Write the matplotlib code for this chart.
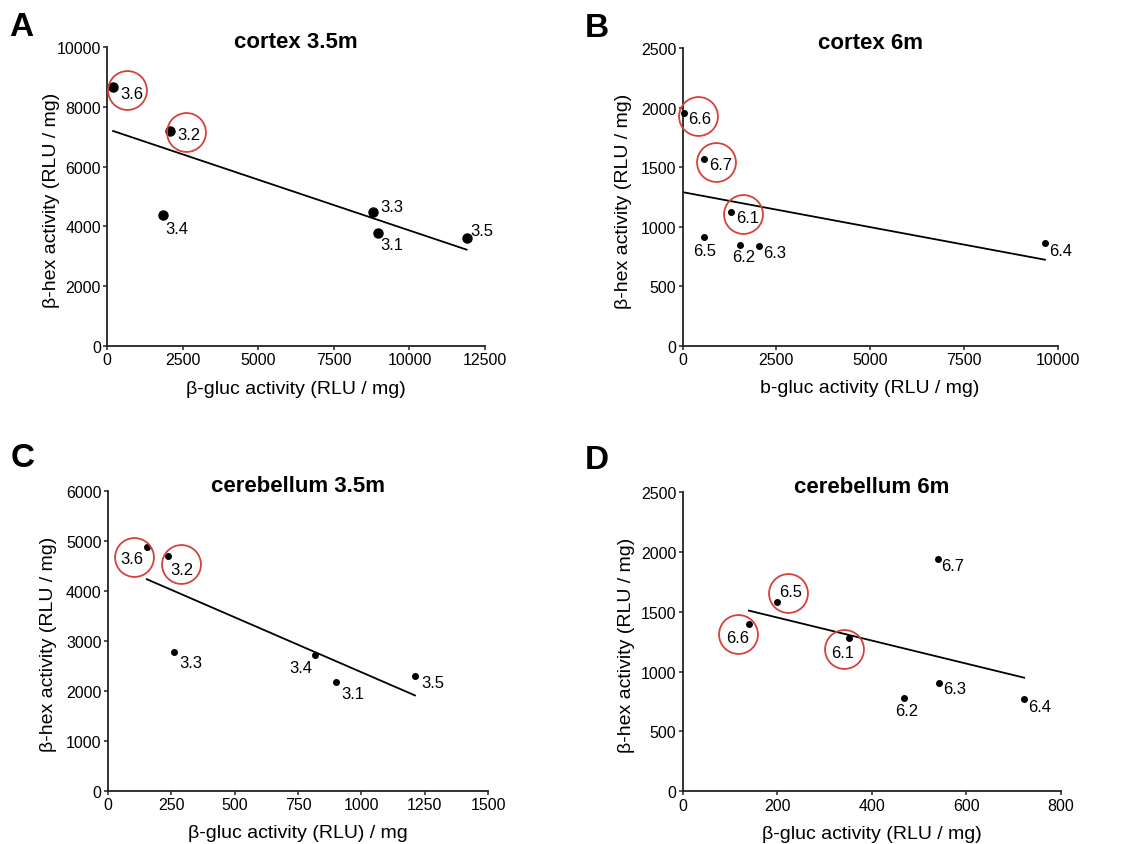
import numpy as np
import matplotlib
matplotlib.use("Agg")
import matplotlib.pyplot as plt
import matplotlib.transforms as mtransforms

plt.rcParams['font.family'] = ['Liberation Sans', 'DejaVu Sans']

# panel A - cortex 3.5m
a_names = ['3.6', '3.2', '3.4', '3.3', '3.1', '3.5']
a_x = [200, 2090, 1840, 8780, 8950, 11890]
a_y = [8660, 7180, 4390, 4470, 3780, 3630]

# panel B - cortex 6m
b_names = ['6.6', '6.7', '6.1', '6.5', '6.2', '6.3', '6.4']
b_x = [40, 580, 1290, 570, 1540, 2040, 9660]
b_y = [1960, 1570, 1120, 910, 850, 840, 860]

# panel C - cerebellum 3.5m
c_names = ['3.6', '3.2', '3.3', '3.4', '3.1', '3.5']
c_x = [154, 236, 261, 817, 900, 1211]
c_y = [4870, 4700, 2770, 2720, 2180, 2300]

# panel D - cerebellum 6m
d_names = ['6.6', '6.5', '6.1', '6.7', '6.3', '6.2', '6.4']
d_x = [140, 200, 352, 539, 542, 467, 722]
d_y = [1400, 1585, 1280, 1940, 905, 780, 770]

# samples circled in red
a_circled = ['3.6', '3.2']
b_circled = ['6.6', '6.7', '6.1']
c_circled = ['3.6', '3.2']
d_circled = ['6.6', '6.5', '6.1']

# label offsets in pixels (dx, dy, ha) and circle offsets (dx, dy)
a_lab = {'3.6': (7, -6, 'left'), '3.2': (7, -3, 'left'), '3.4': (3, -14, 'left'),
         '3.3': (8, 6, 'left'), '3.1': (3, -11, 'left'), '3.5': (4, 7, 'left')}
a_circ = {'3.6': (14, -3), '3.2': (16, -1)}
b_lab = {'6.6': (4, -6, 'left'), '6.7': (5, -6, 'left'), '6.1': (5, -5, 'left'),
         '6.5': (1, -13, 'center'), '6.2': (3, -12, 'center'), '6.3': (4, -7, 'left'),
         '6.4': (4, -7, 'left')}
b_circ = {'6.6': (14, -3), '6.7': (12, -3), '6.1': (12, -2)}
c_lab = {'3.6': (-3, -11, 'right'), '3.2': (3, -14, 'left'), '3.3': (5, -10, 'left'),
         '3.4': (-3, -13, 'right'), '3.1': (5, -12, 'left'), '3.5': (6, -7, 'left')}
c_circ = {'3.6': (-13, -10), '3.2': (13, -8)}
d_lab = {'6.6': (0, -14, 'right'), '6.5': (2, 10, 'left'), '6.1': (-7, -14, 'center'),
         '6.7': (4, -6, 'left'), '6.3': (4, -6, 'left'), '6.2': (3, -13, 'center'),
         '6.4': (4, -7, 'left')}
d_circ = {'6.6': (-11, -10), '6.5': (11, 9), '6.1': (-5, -11)}

fig = plt.figure(figsize=(11.21, 8.45), dpi=100)

panels = [
    # letter, title, rect, names, x, y, circled, labels, circles, x max/step, y max/step, xlabel, marker size, ylabel x
    ('A', 'cortex 3.5m', [0.0955, 0.5893, 0.3372, 0.3538], a_names, a_x, a_y, a_circled, a_lab, a_circ,
     12500, 2500, 10000, 2000, '\u03b2-gluc activity (RLU / mg)', 6.5, -0.124),
    ('B', 'cortex 6m', [0.609, 0.5897, 0.3345, 0.352], b_names, b_x, b_y, b_circled, b_lab, b_circ,
     10000, 2500, 2500, 500, 'b-gluc activity (RLU / mg)', 4, -0.135),
    ('C', 'cerebellum 3.5m', [0.0961, 0.0631, 0.3395, 0.355], c_names, c_x, c_y, c_circled, c_lab, c_circ,
     1500, 250, 6000, 1000, '\u03b2-gluc activity (RLU) / mg', 4, -0.133),
    ('D', 'cerebellum 6m', [0.609, 0.0624, 0.3375, 0.354], d_names, d_x, d_y, d_circled, d_lab, d_circ,
     800, 200, 2500, 500, '\u03b2-gluc activity (RLU / mg)', 4, -0.126),
]

for letter, title, rect, names, xs, ys, circled, labs, circs, xmax, xstep, ymax, ystep, xlabel, ms, ylx in panels:
    ax = fig.add_axes(rect)
    xs = np.array(xs, dtype=float)
    ys = np.array(ys, dtype=float)

    # points
    ax.plot(xs, ys, 'o', color='black', ms=ms, clip_on=False, zorder=3)

    # linear regression line
    slope, inter = np.polyfit(xs, ys, 1)
    xl = np.array([xs.min(), xs.max()])
    ax.plot(xl, slope * xl + inter, color='black', lw=1.3, zorder=2)

    # sample labels
    for n, x, y in zip(names, xs, ys):
        dx, dy, ha = labs[n]
        ax.annotate(n, (x, y), xytext=(dx, dy), textcoords='offset pixels',
                    ha=ha, va='center', fontsize=12, annotation_clip=False)

    # red circles
    for n, x, y in zip(names, xs, ys):
        if n in circled:
            dx, dy = circs[n]
            tr = mtransforms.offset_copy(ax.transData, fig=fig, x=dx, y=dy, units='dots')
            ax.plot([x], [y], 'o', ms=28, mfc='none', mec='#d8403c', mew=1.3,
                    transform=tr, clip_on=False, zorder=4)

    ax.set_xlim(0, xmax)
    ax.set_ylim(0, ymax)
    ax.set_xticks(np.arange(0, xmax + 1, xstep))
    ax.set_yticks(np.arange(0, ymax + 1, ystep))
    ax.spines['top'].set_visible(False)
    ax.spines['right'].set_visible(False)
    for s in ['left', 'bottom']:
        ax.spines[s].set_linewidth(1.3)
        ax.spines[s].set_color('#222222')
    ax.tick_params(direction='out', length=3, width=1.1, labelsize=11.5, pad=1.5, color='#222222')
    ax.set_xlabel(xlabel, fontsize=14, labelpad=9)
    ax.set_ylabel('\u03b2-hex activity (RLU / mg)', fontsize=14)
    ax.yaxis.set_label_coords(ylx, 0.49)
    ax.text(0.5, 1.0, title, transform=ax.transAxes, ha='center', va='baseline',
            fontsize=16, fontweight='bold')

    # panel letter
    lx = rect[0] - 0.087
    ly = rect[1] + rect[3] + (0.024 if letter in 'AB' else 0.039)
    fig.text(lx, ly, letter, fontsize=24, fontweight='bold', ha='left', va='center')

fig.savefig('out.png', dpi=100, facecolor='white')
